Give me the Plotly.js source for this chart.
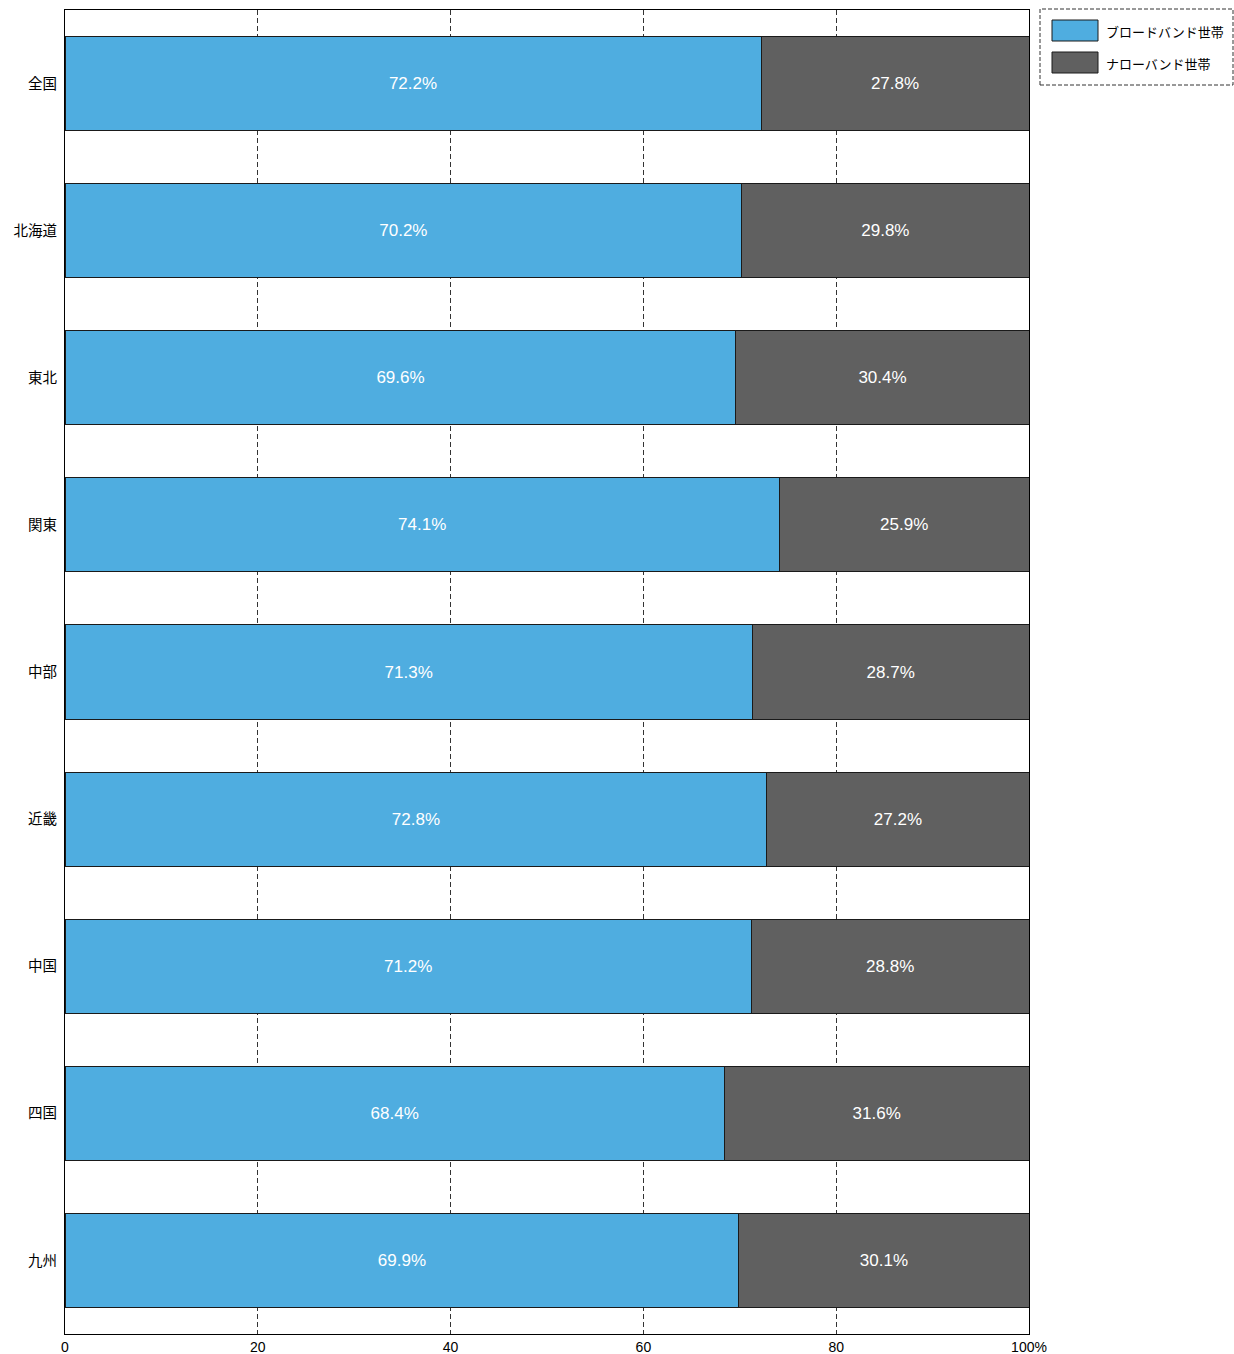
<!DOCTYPE html>
<html>
<head>
<meta charset="utf-8">
<script src="https://cdn.plot.ly/plotly-3.0.1.min.js"></script>
<style>html,body{margin:0;padding:0;background:#fff;}#chart{width:1234px;height:1354px;}</style>
</head>
<body>
<div id="chart"></div>
<script>
const regions = ["全国","北海道","東北","関東","中部","近畿","中国","四国","九州"];
const broadband = [72.2,70.2,69.6,74.1,71.3,72.8,71.2,68.4,69.9];
const narrowband = [27.8,29.8,30.4,25.9,28.7,27.2,28.8,31.6,30.1];
const seriesNames = ["ブロードバンド世帯","ナローバンド世帯"];
const tickVals = [0,20,40,60,80,100];
const tickText = ["0","20","40","60","80","100%"];

const colors = ["#4FADE0","#606060"];
const cjk = '"Noto Sans CJK JP", "Noto Sans", sans-serif';
const latin = '"Liberation Sans", Arial, sans-serif';

function barTrace(vals, i){
  return {
    type:'bar', orientation:'h', y:regions, x:vals, name:seriesNames[i],
    marker:{color:colors[i], line:{color:'#1a1a1a', width:1}},
    text:vals.map(v=>v.toFixed(1)+'%'), textposition:'inside', insidetextanchor:'middle',
    textfont:{color:'#ffffff', size:17, family:latin}, hoverinfo:'skip', showlegend:false
  };
}

const W = 964, H = 1324, L = 65, T = 10;
const px = x => (x - L)/W;
const py = y => (T + H - y)/H;

const shapes = [
  {type:'rect', xref:'paper', yref:'paper', x0:px(1040), x1:px(1233), y0:py(85), y1:py(9),
   line:{color:'#333', width:1, dash:'4px,2px'}, fillcolor:'rgba(0,0,0,0)'},
  {type:'rect', xref:'paper', yref:'paper', x0:px(1052), x1:px(1098), y0:py(41), y1:py(20),
   line:{color:'#1a1a1a', width:1}, fillcolor:colors[0]},
  {type:'rect', xref:'paper', yref:'paper', x0:px(1052), x1:px(1098), y0:py(73), y1:py(52),
   line:{color:'#1a1a1a', width:1}, fillcolor:colors[1]}
];
const annotations = [
  {xref:'paper', yref:'paper', x:px(1104), y:py(31), xanchor:'left', yanchor:'middle', showarrow:false,
   text:seriesNames[0], font:{family:cjk, size:13, color:'#000'}},
  {xref:'paper', yref:'paper', x:px(1104), y:py(63), xanchor:'left', yanchor:'middle', showarrow:false,
   text:seriesNames[1], font:{family:cjk, size:13, color:'#000'}}
];

const layout = {
  width:1234, height:1354, margin:{l:L, r:1234-1029, t:T, b:1354-1334, pad:0},
  paper_bgcolor:'#fff', plot_bgcolor:'#fff', barmode:'stack', bargap:0.36, showlegend:false,
  xaxis:{range:[0,100], tickvals:tickVals, ticktext:tickText, showgrid:true, gridcolor:'#333',
    griddash:'5px,3px', gridwidth:1, zeroline:false, showline:true, mirror:true, linecolor:'#000', linewidth:1,
    ticks:'', tickfont:{family:latin, size:14, color:'#000'}, fixedrange:true},
  yaxis:{type:'category', autorange:'reversed', showgrid:false, zeroline:false, showline:true, mirror:true,
    linecolor:'#000', linewidth:1, ticks:'', ticklabelstandoff:4,
    tickfont:{family:cjk, size:14.5, color:'#000'}},
  shapes:shapes, annotations:annotations
};

Plotly.newPlot('chart', [barTrace(broadband,0), barTrace(narrowband,1)], layout, {displayModeBar:false, staticPlot:true});
</script>
</body>
</html>
